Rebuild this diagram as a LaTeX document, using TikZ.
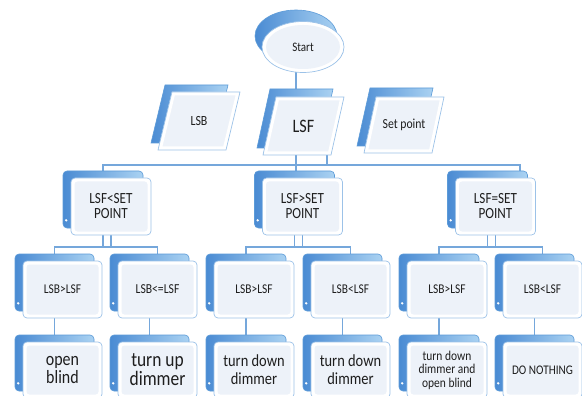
\documentclass[tikz,border=0pt]{standalone}
\usepackage{fontspec}
\setmainfont{Carlito}[FakeStretch=0.85]
\usetikzlibrary{shapes.geometric}
\definecolor{edgec}{HTML}{9CC2E8}
\definecolor{innerc}{HTML}{EDF2F9}
\definecolor{backdark}{HTML}{4A8BD3}
\definecolor{backlight}{HTML}{AAD2F2}
\definecolor{backedge}{HTML}{5C9BD8}
\definecolor{connc}{HTML}{75A7DB}
\definecolor{txtc}{HTML}{1E1E1E}
\pgfdeclarelayer{bgw}
\pgfdeclarelayer{bg}
\pgfsetlayers{bgw,bg,main}
\tikzset{
 backbox/.style={rectangle, rounded corners=4pt, draw=backedge, line width=0.6pt, left color=backdark, right color=backlight},
 frontbox/.style={rectangle, rounded corners=4pt, draw=edgec, line width=0.7pt, fill=white, align=center, text=txtc, inner sep=0pt,
   path picture={\fill[innerc, rounded corners=3pt] ([shift={(3.5pt,-3.5pt)}]path picture bounding box.north west) rectangle ([shift={(-3.5pt,3.5pt)}]path picture bounding box.south east);}},
 conn/.style={draw=connc, line width=1.2pt},
 wdot/.style={circle, fill=white, inner sep=0pt, minimum size=2.6pt},
 fs/.style 2 args={font=\fontsize{#1}{#2}\selectfont},
 ptext/.style={text=txtc, inner sep=0pt, align=center},
}
% name, position, width, height, font sizes, text
\newcommand\mkbox[6]{%
 \node[backbox, minimum width=#3, minimum height=#4, xshift=-8pt, yshift=7pt] (#1b) at (#2) {};
 \node[wdot] (#1d) at ([shift={(3.5pt,8pt)}]#1b.south west) {};
 \node[frontbox, minimum width=#3, minimum height=#4, fs=#5] (#1) at (#2) {#6};
}
\newcommand\fpara[4]{%
 \begin{scope}
 \clip (#1)--(#2)--(#3)--(#4)--cycle;
 \filldraw[fill=innerc, draw=white, line width=7pt] (#1)--(#2)--(#3)--(#4)--cycle;
 \end{scope}
 \draw[edgec, line width=0.7pt] (#1)--(#2)--(#3)--(#4)--cycle;
}
\newcommand\bpara[4]{%
 \shadedraw[left color=backdark, right color=backlight, draw=backedge, line width=0.6pt] (#1)--(#2)--(#3)--(#4)--cycle;
}
\begin{document}
\begin{tikzpicture}[x=1pt, y=-1pt]
\useasboundingbox (0,0) rectangle (582,396);
\begin{pgfonlayer}{bgw}
\fill[white] (0,0) rectangle (582,396);
\end{pgfonlayer}
\clip (0,0) rectangle (582,396);

\coordinate (busR) at (520,165);
\coordinate (busB) at (0,247);
\coordinate (legA) at (327,165);

% Start
\node[ellipse, minimum width=82pt, minimum height=52pt, left color=backdark, right color=backlight, draw=backedge, line width=0.6pt] (startb) at (296,36) {};
\node[ellipse, minimum width=82pt, minimum height=51pt, fill=white, draw=edgec, line width=0.7pt, text=txtc, fs={13}{13}, inner sep=0pt,
  path picture={\fill[innerc] (path picture bounding box.center) ellipse (37pt and 22pt);}] (start) at (303,47) {Start};

% input parallelograms
\bpara{151,143}{214,143}{228,85}{165,85}
\fpara{158,150}{226,150}{240,92}{172,92}
\node[ptext, fs={14}{14}] (lsb) at (199,121) {LSB};

\bpara{257,148}{320,148}{333,89}{270,89}
\fpara{263,155}{331,155}{344,97}{276,97}
\node[ptext, fs={19}{19}] (lsf) at (303.5,126) {LSF};

\bpara{357,146}{420,146}{433,88}{370,88}
\fpara{364,153}{432,153}{444,97}{376,97}
\node[ptext, fs={13.8}{13.8}] (setp) at (404,125) {Set point};

% level 2
\mkbox{g1}{111,206.5}{80pt}{57pt}{{15.5}{15}}{LSF<SET\\POINT}
\mkbox{g2}{302.5,206.5}{80pt}{57pt}{{15.5}{15}}{LSF>SET\\POINT}
\mkbox{g3}{495.5,206.5}{80pt}{57pt}{{15.5}{15}}{LSF=SET\\POINT}

% level 3
\mkbox{c1}{62.5,289.5}{79pt}{57pt}{{13.4}{13.4}}{LSB>LSF}
\mkbox{c2}{157.5,289.5}{79pt}{57pt}{{13.7}{13.7}}{LSB<=LSF}
\mkbox{c3}{254,289.5}{80pt}{57pt}{{13.4}{13.4}}{LSB>LSF}
\mkbox{c4}{350.5,289.5}{79pt}{57pt}{{13.4}{13.4}}{LSB<LSF}
\mkbox{c5}{447,289.5}{80pt}{57pt}{{13.4}{13.4}}{LSB>LSF}
\mkbox{c6}{542.5,289.5}{79pt}{57pt}{{13.4}{13.4}}{LSB<LSF}

% level 4
\mkbox{d1}{62.5,370}{79pt}{56pt}{{18.8}{18.5}}{open\\blind}
\mkbox{d2}{157.5,370}{79pt}{56pt}{{20.5}{19}}{turn up\\dimmer}
\mkbox{d3}{254,370}{80pt}{56pt}{{17}{18}}{turn down\\dimmer}
\mkbox{d4}{350.5,370}{79pt}{56pt}{{17}{18}}{turn down\\dimmer}
\mkbox{d5}{447,370}{80pt}{56pt}{{13.5}{13.5}}{turn down\\dimmer and\\open blind}
\mkbox{d6}{542.5,370}{79pt}{56pt}{{13.2}{13.2}}{DO NOTHING}

\begin{pgfonlayer}{bg}
\draw[conn] (startb.center) -- (startb.center |- g2b.center);
\draw[conn] (lsf.center -| legA) -- (legA);
\draw[conn] (g1b.center) |- (busR) -- (busR |- g3b.center);
% level 2 to level 3
\draw[conn] (g1b.center) -- (g1b.center |- busB);
\draw[conn] (g1.center) -- (g1.center |- busB);
\draw[conn] (c1b.center) -- (c1b.center |- busB) -- (c2.center |- busB) -- (c2.center);
\draw[conn] (g2b.center) -- (g2b.center |- busB);
\draw[conn] (g2.center) -- (g2.center |- busB);
\draw[conn] (c3b.center) -- (c3b.center |- busB) -- (c4.center |- busB) -- (c4.center);
\draw[conn] (g3b.center) -- (g3b.center |- busB);
\draw[conn] (g3.center) -- (g3.center |- busB);
\draw[conn] (c5b.center) -- (c5b.center |- busB) -- (c6.center |- busB) -- (c6.center);
% level 3 to level 4
\draw[conn] (c1b.center) -- (d1b.center);
\draw[conn] (c2b.center) -- (d2b.center);
\draw[conn] (c3b.center) -- (d3b.center);
\draw[conn] (c4b.center) -- (d4b.center);
\draw[conn] (c5b.center) -- (d5b.center);
\draw[conn] (c6b.center) -- (d6b.center);
\end{pgfonlayer}
\end{tikzpicture}
\end{document}
